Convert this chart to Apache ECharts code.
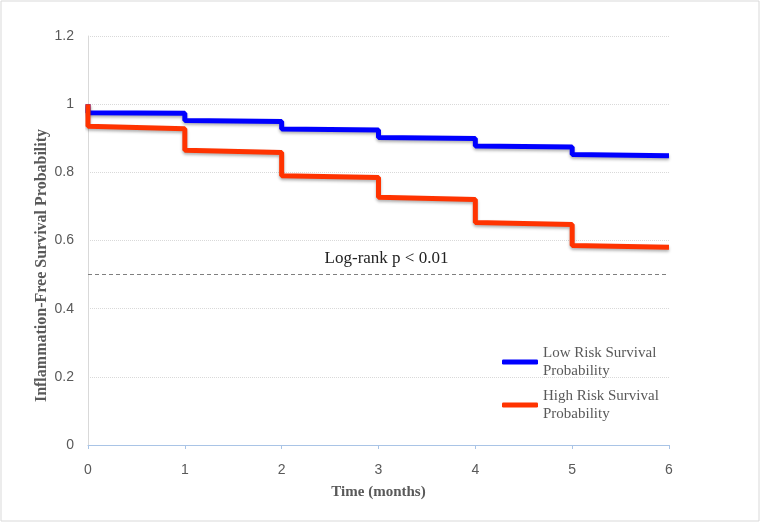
<!DOCTYPE html>
<html>
<head>
<meta charset="utf-8">
<script src="https://cdn.jsdelivr.net/npm/echarts@6/dist/echarts.min.js"></script>
<style>html,body{margin:0;padding:0;background:#fff;}#chart{width:762px;height:525px;}</style>
</head>
<body>
<div id="chart"></div>
<script>
// ---- Data ----
var lowRiskName = 'Low Risk Survival Probability';
var highRiskName = 'High Risk Survival Probability';
var lowRiskTime = [0, 0, 1, 1, 2, 2, 3, 3, 4, 4, 5, 5, 6];
var lowRiskSurv = [1, 0.975, 0.973, 0.952, 0.949, 0.927, 0.924, 0.902, 0.899, 0.877, 0.874, 0.852, 0.849];
var highRiskTime = [0, 0, 1, 1, 2, 2, 3, 3, 4, 4, 5, 5, 6];
var highRiskSurv = [1, 0.935, 0.928, 0.865, 0.858, 0.79, 0.785, 0.727, 0.72, 0.653, 0.647, 0.585, 0.58];
var refLineValue = 0.5;
var refLineText = 'Log-rank p < 0.01';
var xTicks = [0, 1, 2, 3, 4, 5, 6];
var yTicks = [0, 0.2, 0.4, 0.6, 0.8, 1, 1.2];
var xAxisTitle = 'Time (months)';
var yAxisTitle = 'Inflammation-Free Survival Probability';

function pairs(t, v) { return t.map(function (x, i) { return [x, v[i]]; }); }

var gray = '#595959';
var serif = '"Liberation Serif", "DejaVu Serif", serif';
var sans = '"Liberation Sans", Arial, sans-serif';

var legendText = {
  fontFamily: serif, fontSize: 15, color: gray, lineHeight: 18,
  padding: [18, 0, 0, 0]
};
function legendFmt(name) { return name.replace(' Probability', '\nProbability'); }

var chart = echarts.init(document.getElementById('chart'));
chart.setOption({
  animation: false,
  backgroundColor: '#fff',
  graphic: [{
    type: 'rect', shape: { x: 1, y: 1, width: 758, height: 520 },
    style: { fill: 'none', stroke: '#d9d9d9', lineWidth: 1 }, silent: true
  }],
  grid: { left: 88, right: 93, top: 36, bottom: 80 },
  legend: [{
    data: [lowRiskName], orient: 'vertical', left: 497, top: 330,
    icon: 'roundRect', itemWidth: 36, itemHeight: 5, itemGap: 0,
    formatter: legendFmt, textStyle: legendText, selectedMode: false
  }, {
    data: [highRiskName], orient: 'vertical', left: 497, top: 373,
    icon: 'roundRect', itemWidth: 36, itemHeight: 5, itemGap: 0,
    formatter: legendFmt, textStyle: legendText, selectedMode: false
  }],
  xAxis: {
    type: 'value', min: xTicks[0], max: xTicks[xTicks.length - 1], interval: 1,
    name: xAxisTitle, nameLocation: 'middle', nameGap: 40,
    nameTextStyle: { fontFamily: serif, fontWeight: 'bold', fontSize: 15, color: gray },
    axisLine: { show: true, lineStyle: { color: '#a9c4e6', width: 1 } },
    axisTick: { show: true, length: 4, lineStyle: { color: '#a9c4e6' } },
    axisLabel: { color: gray, fontFamily: sans, fontSize: 14, margin: 18 },
    splitLine: { show: false }
  },
  yAxis: {
    type: 'value', min: yTicks[0], max: yTicks[yTicks.length - 1], interval: 0.2,
    name: yAxisTitle, nameLocation: 'middle', nameGap: 38, nameMoveOverlap: false,
    nameTextStyle: { fontFamily: serif, fontWeight: 'bold', fontSize: 16, color: gray,
      padding: [0, 50, 0, 0] },
    axisLine: { show: true, lineStyle: { color: '#d9d9d9', width: 1 } },
    axisTick: { show: false },
    axisLabel: { color: gray, fontFamily: sans, fontSize: 14, margin: 14,
      formatter: function (v) { return String(Math.round(v * 10) / 10); } },
    splitLine: { show: true, lineStyle: { color: '#d9d9d9', type: 'dotted', width: 1 } }
  },
  series: [{
    name: lowRiskName, type: 'line', data: pairs(lowRiskTime, lowRiskSurv),
    showSymbol: false, symbol: 'none', color: '#0000ff',
    lineStyle: { width: 5, color: '#0000ff', shadowColor: 'rgba(0,0,0,0.3)', shadowBlur: 3, shadowOffsetY: 2 },
    z: 3
  }, {
    name: highRiskName, type: 'line', data: pairs(highRiskTime, highRiskSurv),
    showSymbol: false, symbol: 'none', color: '#ff3300',
    lineStyle: { width: 5, color: '#ff3300', shadowColor: 'rgba(0,0,0,0.3)', shadowBlur: 3, shadowOffsetY: 2 },
    z: 4,
    markLine: {
      silent: true, symbol: 'none',
      lineStyle: { color: '#7f7f7f', type: [4, 3], width: 1, shadowBlur: 0, shadowOffsetY: 0 },
      label: {
        show: true, position: 'middle', formatter: refLineText, distance: 8, offset: [8, 0],
        fontFamily: serif, fontSize: 17, color: '#222'
      },
      data: [{ yAxis: refLineValue }]
    }
  }]
});
</script>
</body>
</html>
